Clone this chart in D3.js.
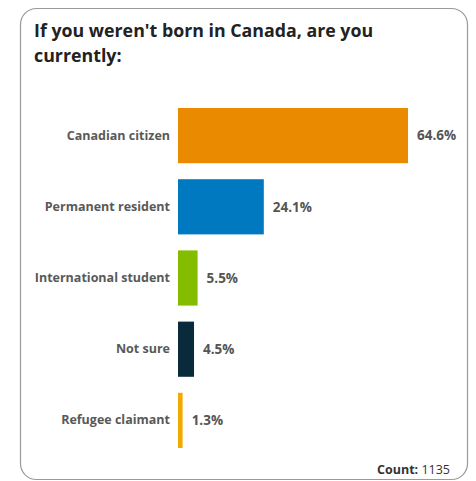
<!DOCTYPE html>
<html>
<head>
<meta charset="utf-8">
<script src="https://cdn.jsdelivr.net/npm/d3@7"></script>
<style>
  html, body { margin: 0; padding: 0; background: #fff; }
  svg { display: block; font-family: "Open Sans", "Noto Sans", sans-serif; }
</style>
</head>
<body>
<div id="chart"></div>
<script>
const categories = ["Canadian citizen", "Permanent resident", "International student", "Not sure", "Refugee claimant"];
const values = [64.6, 24.1, 5.5, 4.5, 1.3];
const colors = ["#ea8a00", "#0079c1", "#84bd00", "#092a3a", "#f2aa00"];
const titleLines = ["If you weren't born in Canada, are you", "currently:"];
const count = 1135;

const width = 476, height = 481;
const data = categories.map((c, i) => ({ c, v: values[i], col: colors[i] }));

const svg = d3.select("#chart").append("svg")
  .attr("width", width)
  .attr("height", height);

// card
svg.append("rect")
  .attr("x", 20.5).attr("y", 8.5)
  .attr("width", 447).attr("height", 471)
  .attr("rx", 16).attr("ry", 16)
  .attr("fill", "#fff")
  .attr("stroke", "#9a9a9a")
  .attr("stroke-width", 1.2);

svg.append("g").selectAll("text")
  .data(titleLines)
  .join("text")
  .attr("x", 34)
  .attr("y", (d, i) => 37 + i * 25)
  .attr("font-size", 17.8)
  .attr("font-weight", 700)
  .attr("fill", "#222")
  .text(d => d);

const x = d3.scaleLinear().domain([0, d3.max(values)]).range([178, 408]);
const y = d3.scaleBand().domain(categories).range([100, 456]).paddingInner(0.225).paddingOuter(0.1125);

svg.append("g").selectAll("rect")
  .data(data)
  .join("rect")
  .attr("x", x(0))
  .attr("y", d => y(d.c))
  .attr("width", d => x(d.v) - x(0))
  .attr("height", y.bandwidth())
  .attr("fill", d => d.col);

// category labels
const yAxis = svg.append("g")
  .attr("transform", `translate(${x(0) - 8},0)`)
  .call(d3.axisLeft(y).tickSize(0).tickPadding(0));
yAxis.select(".domain").remove();
yAxis.selectAll("text")
  .attr("font-family", "Open Sans, Noto Sans, sans-serif")
  .attr("font-size", 12.5)
  .attr("font-weight", 700)
  .attr("fill", "#595959");

// value labels
svg.append("g").selectAll("text")
  .data(data)
  .join("text")
  .attr("x", d => x(d.v) + 9)
  .attr("y", d => y(d.c) + y.bandwidth() / 2)
  .attr("dy", "0.35em")
  .attr("font-size", 13.5)
  .attr("font-weight", 700)
  .attr("fill", "#555")
  .text(d => d.v.toFixed(1) + "%");

const cnt = svg.append("text")
  .attr("x", 450).attr("y", 474)
  .attr("text-anchor", "end")
  .attr("font-size", 12.5)
  .attr("fill", "#333");
cnt.append("tspan").attr("font-weight", 700).text("Count: ");
cnt.append("tspan").text(count);
</script>
</body>
</html>
